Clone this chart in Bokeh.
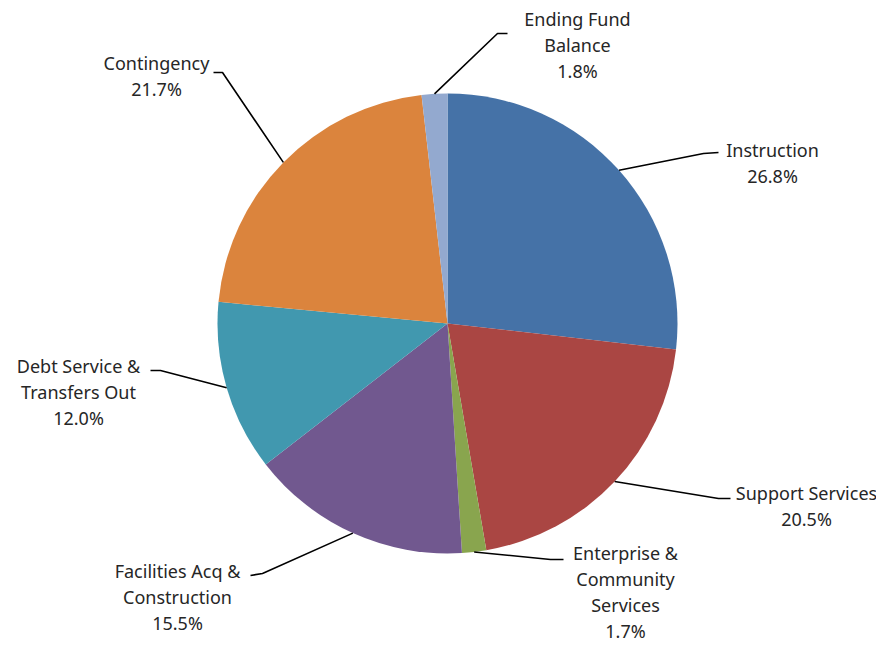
import math
from bokeh.plotting import figure
from bokeh.models import Range1d
from bokeh.core.properties import value
from bokeh.embed import file_html
from bokeh.resources import INLINE

# ---- data ----
names = ["Instruction", "Support Services", "Enterprise &\nCommunity\nServices",
         "Facilities Acq &\nConstruction", "Debt Service &\nTransfers Out",
         "Contingency", "Ending Fund\nBalance"]
shares = [26.8, 20.5, 1.7, 15.5, 12.0, 21.7, 1.8]
colors = ["#4572A7", "#AA4643", "#89A54E", "#71588F", "#4198AF", "#DB843D", "#93A9CF"]

# ---- layout (pixel positions on page, y downward) ----
W, H = 876, 646
cx, cy, R = 447, 323, 230
elbows = [(703, 153), (718, 498), (550, 559), (262, 573), (160, 370), (222, 72), (497, 33)]
ends = [(718, 152), (730, 498), (563, 559), (250, 575), (150, 370), (213, 72), (507, 33)]
label_pos = [(772, 149), (806, 492), (625, 552), (177, 570), (78, 365), (156, 62), (577, 18)]
LINE_H = 26.3

def Y(y):
    return 646 - y

p = figure(width=W, height=H, output_backend="svg", toolbar_location=None,
           x_range=Range1d(0, W), y_range=Range1d(646 - H, 646), min_border=0)
p.axis.visible = False
p.grid.visible = False
p.outline_line_color = None
p.background_fill_color = "white"

total = sum(shares)
cum = 0.0
starts, endsA, mids = [], [], []
for s in shares:
    a0 = math.pi / 2 - 2 * math.pi * cum / total
    a1 = math.pi / 2 - 2 * math.pi * (cum + s) / total
    starts.append(a0)
    endsA.append(a1)
    mids.append((a0 + a1) / 2)
    cum += s

p.wedge(x=[cx] * len(shares), y=[Y(cy)] * len(shares), radius=R,
        start_angle=starts, end_angle=endsA, direction="clock",
        fill_color=colors, line_color=None)

for i, name in enumerate(names):
    a = mids[i]
    sx, sy = cx + R * math.cos(a), Y(cy) + R * math.sin(a)
    ex, ey = elbows[i]
    fx, fy = ends[i]
    p.line([sx, ex, fx], [sy, Y(ey), Y(fy)], line_color="black", line_width=1.6)
    lines = name.split("\n") + [f"{shares[i]:.1f}%"]
    tx, ty = label_pos[i]
    p.text(x=[tx] * len(lines), y=[Y(ty + k * LINE_H) for k in range(len(lines))],
           text=lines, text_align="center", text_baseline="middle",
           text_font=value("Noto Sans"), text_font_size="18px", text_color="#262626")

open("out.html", "w").write(file_html(p, INLINE))
